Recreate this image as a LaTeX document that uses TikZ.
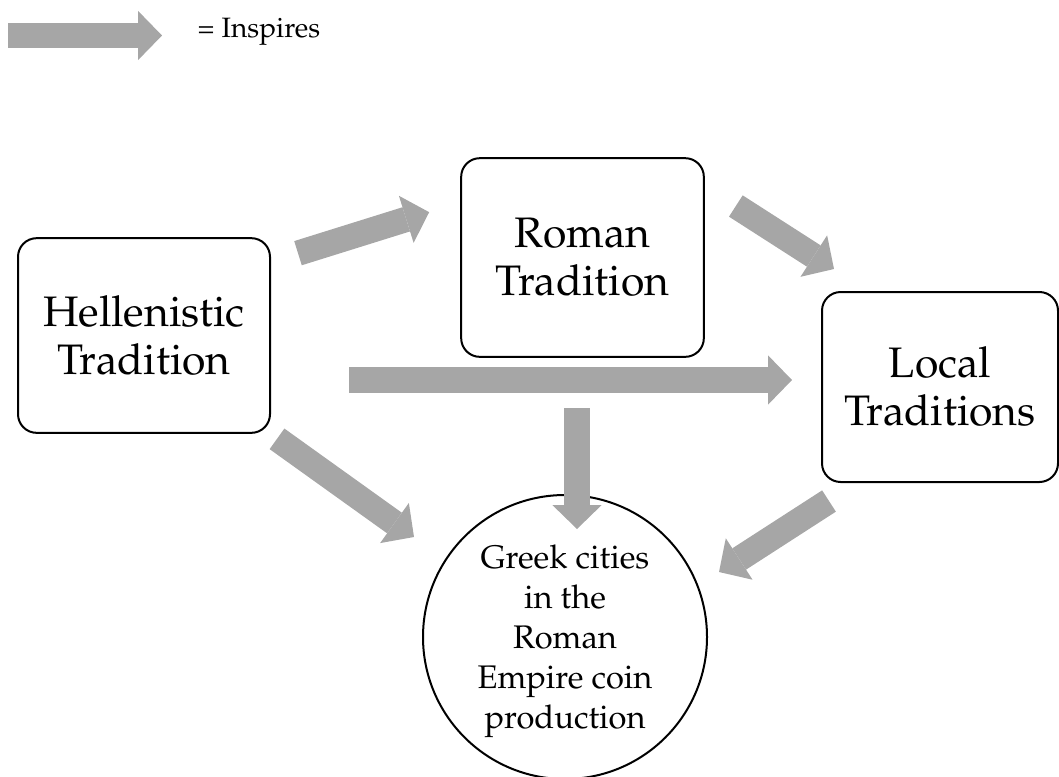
\documentclass[tikz,border=0pt]{standalone}
\usepackage[T1]{fontenc}
\renewcommand{\rmdefault}{ppl}
\usetikzlibrary{arrows.meta}
\definecolor{arrowgray}{RGB}{166,166,166}

\begin{document}
\begin{tikzpicture}[x=0.75pt,y=-0.75pt,
  trad node/.style={draw,line width=1.5pt,rounded corners=14pt,align=center,
    font=\fontsize{32}{36}\selectfont},
  coin node/.style={draw,circle,line width=1.5pt,minimum size=213pt,inner sep=0pt,
    align=center,text depth=0pt,font=\fontsize{24.5}{30}\selectfont},
  inspire/.style={draw=arrowgray,line width=19pt,
    -{Triangle[length=18pt,width=37pt,line width=0pt]}}]
  \useasboundingbox (0,0) rectangle (1059,776);
  \node[trad node,minimum width=189pt,minimum height=146pt]   (hell)  at (144,335.5) {Hellenistic\\Tradition};
  \node[trad node,minimum width=182pt,minimum height=149pt]   (roman) at (582.5,257.5) {Roman\\Tradition};
  \node[trad node,minimum width=177pt,minimum height=142.5pt] (local) at (940,387) {Local\\Traditions};
  \node[coin node] (coin) at (565,637) {Greek cities\\in the\\Roman\\Empire coin\\production};
  \node[anchor=base west,font=\fontsize{21}{25}\selectfont] (key) at (193,37) {= Inspires};
  \coordinate (keytail) at (8,35.5);
  \path
    (keytail) edge[inspire] ([shift={(-31,-1.5)}]key.base west)
    ([shift={(27,16)}]hell.north east) edge[inspire] ([shift={(-31,55)}]roman.north west)
    ([shift={(31,-51.5)}]roman.east) edge[inspire] ([shift={(13,-22)}]local.north west)
    ([shift={(78,44.5)}]hell.east) edge[inspire] ([shift={(-29,-7)}]local.west)
    ([shift={(-5.5,50.5)}]roman.south) edge[inspire] ([shift={(12,35)}]coin.north)
    ([shift={(6,5)}]hell.south east) edge[inspire] ([shift={(-8,-100)}]coin.west)
    ([shift={(8,18)}]local.south west) edge[inspire] ([shift={(11,-65)}]coin.east);
\end{tikzpicture}
\end{document}
